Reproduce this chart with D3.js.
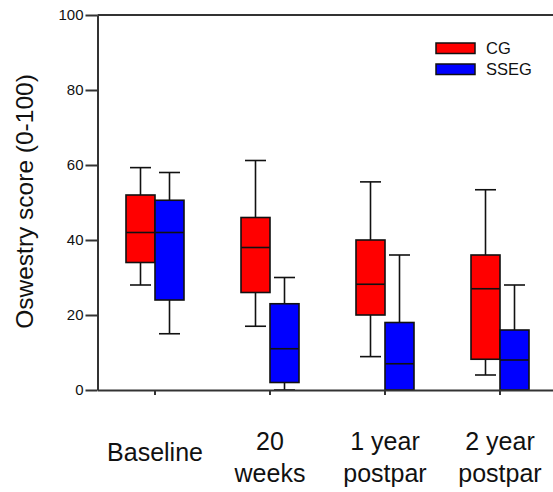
<!DOCTYPE html>
<html lang="en">
<head>
  <meta charset="UTF-8">
  <title>Oswestry score box plot</title>
  <script src="https://d3js.org/d3.v7.min.js"></script>
  <style>
    body { margin: 0; background: #fff; }
    svg { display: block; font-family: "Liberation Sans", Arial, sans-serif; }
  </style>
</head>
<body>
  <svg id="chart" width="553" height="492"></svg>
  <script>
    // data
    const categories = ["Baseline", "20 weeks", "1 year postpar", "2 year postpar"];
    const catLabels = [["Baseline"], ["20", "weeks"], ["1 year", "postpar"], ["2 year", "postpar"]];
    const groups = ["CG", "SSEG"];
    const groupColors = ["#ff0000", "#0000ff"];
    // [whisker low, q1, median, q3, whisker high]
    const cgStats = [
      [28, 34, 42, 52, 59.3],
      [17, 26, 38, 46, 61.2],
      [8.9, 20, 28.2, 40, 55.5],
      [4, 8.2, 27, 36, 53.4]
    ];
    const ssegStats = [
      [15, 24, 42, 50.6, 58],
      [0, 2, 11, 23, 30],
      [0, 0, 7, 18, 36],
      [0, 0, 8, 16, 28]
    ];
    const yTicks = [0, 20, 40, 60, 80, 100];

    const svg = d3.select("#chart");
    const plotLeft = 97.5, plotTop = 15, plotBottom = 390;

    const y = d3.scaleLinear().domain([0, 100]).range([plotBottom, plotTop]);
    const x = d3.scaleBand().domain(categories).range([plotLeft, plotLeft + 460]);
    const xg = d3.scaleBand().domain(groups).range([-29, 29]);

    const rows = [];
    categories.forEach((c, i) => {
      rows.push({ cat: c, group: "CG", s: cgStats[i] });
      rows.push({ cat: c, group: "SSEG", s: ssegStats[i] });
    });
    const color = d3.scaleOrdinal().domain(groups).range(groupColors);

    // boxes
    const g = svg.append("g");
    const box = g.selectAll("g.box").data(rows).join("g")
      .attr("class", "box")
      .attr("transform", d => `translate(${x(d.cat) + x.bandwidth() / 2 + xg(d.group)},0)`);
    const bw = xg.bandwidth();
    const capW = 21;

    box.append("line")
      .attr("x1", bw / 2).attr("x2", bw / 2)
      .attr("y1", d => y(d.s[3])).attr("y2", d => y(d.s[4]))
      .attr("stroke", "#111").attr("stroke-width", 1.6);
    box.append("line")
      .attr("x1", bw / 2).attr("x2", bw / 2)
      .attr("y1", d => y(d.s[1])).attr("y2", d => y(d.s[0]))
      .attr("stroke", "#111").attr("stroke-width", 1.6);
    box.append("line")
      .attr("x1", bw / 2 - capW / 2).attr("x2", bw / 2 + capW / 2)
      .attr("y1", d => y(d.s[4])).attr("y2", d => y(d.s[4]))
      .attr("stroke", "#111").attr("stroke-width", 1.6);
    box.append("line")
      .attr("x1", bw / 2 - capW / 2).attr("x2", bw / 2 + capW / 2)
      .attr("y1", d => y(d.s[0])).attr("y2", d => y(d.s[0]))
      .attr("stroke", "#111").attr("stroke-width", 1.6);
    box.append("rect")
      .attr("x", 0).attr("width", bw)
      .attr("y", d => y(d.s[3]))
      .attr("height", d => y(d.s[1]) - y(d.s[3]))
      .attr("fill", d => color(d.group))
      .attr("stroke", "#111").attr("stroke-width", 1.6);
    box.append("line")
      .attr("x1", 0).attr("x2", bw)
      .attr("y1", d => y(d.s[2])).attr("y2", d => y(d.s[2]))
      .attr("stroke", "#111").attr("stroke-width", 1.6);

    // axes
    const yAxis = svg.append("g")
      .attr("transform", `translate(${plotLeft},0)`)
      .call(d3.axisLeft(y).tickValues(yTicks).tickSize(12).tickSizeOuter(0).tickPadding(2));
    yAxis.attr("font-family", null).attr("font-size", null);
    yAxis.selectAll("text").style("font-size", "15px").attr("fill", "#111");

    const xAxis = svg.append("g")
      .attr("transform", `translate(0,${plotBottom})`)
      .call(d3.axisBottom(x).tickSize(5).tickSizeOuter(0).tickFormat(""));

    svg.selectAll(".domain, .tick line").attr("stroke", "#333").attr("stroke-width", 2);

    // top frame line
    svg.append("line")
      .attr("x1", plotLeft).attr("x2", plotLeft + 460)
      .attr("y1", y(100)).attr("y2", y(100))
      .attr("stroke", "#333").attr("stroke-width", 2);

    // category labels
    const lab = svg.append("g").selectAll("text").data(categories).join("text")
      .attr("text-anchor", "middle")
      .attr("fill", "#111")
      .style("font-size", "25px")
      .attr("transform", (d, i) => `translate(${x(d) + x.bandwidth() / 2},${catLabels[i].length === 1 ? 461 : 450})`);
    lab.selectAll("tspan").data((d, i) => catLabels[i]).join("tspan")
      .attr("x", 0).attr("dy", (d, j) => j === 0 ? 0 : 32)
      .text(d => d);

    // y title
    svg.append("text")
      .attr("transform", `translate(32.5,${(plotTop + plotBottom) / 2 - 1}) rotate(-90)`)
      .attr("text-anchor", "middle")
      .attr("fill", "#111")
      .style("font-size", "24.5px")
      .text("Oswestry score (0-100)");

    // legend
    const leg = svg.append("g").selectAll("g").data(groups).join("g")
      .attr("transform", (d, i) => `translate(436,${43 + i * 21})`);
    leg.append("rect")
      .attr("width", 39).attr("height", 10.5)
      .attr("fill", d => color(d))
      .attr("stroke", "#111").attr("stroke-width", 1.5);
    leg.append("text")
      .attr("x", 50).attr("y", 10.5)
      .attr("fill", "#111")
      .style("font-size", "16.5px")
      .text(d => d);
  </script>
</body>
</html>
